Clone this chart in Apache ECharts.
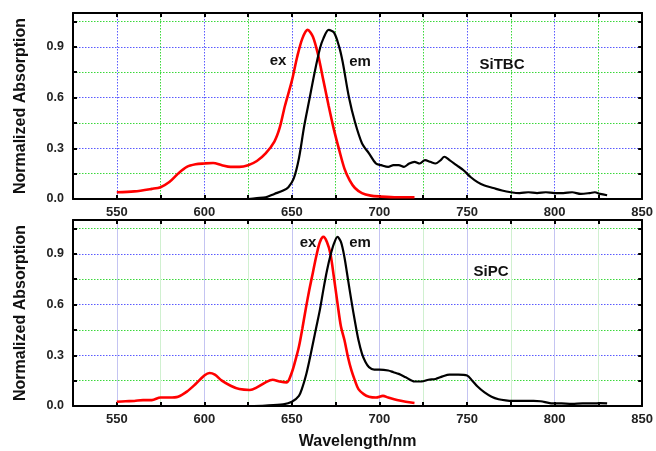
<!DOCTYPE html>
<html>
<head>
<meta charset="utf-8">
<script src="https://cdn.jsdelivr.net/npm/echarts@6/dist/echarts.min.js"></script>
<style>html,body{margin:0;padding:0;background:#fff}#c{width:656px;height:451px}</style>
</head>
<body>
<div id="c"></div>
<script>
// ---- Data ----
const sitbcExWl = [550,560,570,575,580,585,590,595,600,605,610,615,620,625,630,635,640,643,646,650,653,656,659,662,665,668,671,674,677,680,683,686,690,695,700,710,720];
const sitbcExVal = [0.04,0.045,0.06,0.07,0.1,0.15,0.19,0.205,0.21,0.213,0.2,0.19,0.19,0.2,0.225,0.27,0.34,0.42,0.55,0.7,0.84,0.95,1.0,0.96,0.85,0.7,0.55,0.41,0.29,0.18,0.11,0.065,0.035,0.02,0.015,0.01,0.01];

const sitbcEmWl = [625,630,635,640,645,648,651,654,657,660,663,666,668,671,674,677,679,682.6,686,690,694,698,701,705,708,711,714,717,720,723,726,729,732,735,737,740,744,748,752,756,760,765,770,775,780,785,790,795,800,805,810,815,820,823,826,830];
const sitbcEmVal = [0.0,0.005,0.01,0.03,0.05,0.07,0.12,0.24,0.43,0.59,0.75,0.89,0.95,1.0,0.985,0.9,0.81,0.6,0.455,0.33,0.27,0.21,0.2,0.19,0.2,0.2,0.19,0.21,0.22,0.21,0.23,0.22,0.21,0.23,0.25,0.23,0.2,0.17,0.13,0.1,0.08,0.065,0.05,0.04,0.035,0.04,0.035,0.04,0.035,0.035,0.04,0.03,0.035,0.04,0.03,0.022];

const sipcExWl = [550,555,560,565,570,575,580,585,590,595,600,603,606,610,615,620,626,630,635,639,643,647,650,652,654,656,658,660,662,664,666,668,670,672,674,676,678,680,682,684,686,688,691,694,698,702,705,710,715,720];
const sipcExVal = [0.025,0.028,0.03,0.035,0.035,0.05,0.05,0.055,0.085,0.13,0.18,0.195,0.185,0.15,0.12,0.1,0.095,0.11,0.14,0.155,0.145,0.14,0.2,0.27,0.35,0.46,0.58,0.69,0.79,0.89,0.97,1.0,0.97,0.9,0.76,0.61,0.47,0.39,0.29,0.21,0.15,0.1,0.07,0.055,0.05,0.06,0.05,0.035,0.025,0.018];

const sipcEmWl = [625,635,645,650,654,656,658,660,662,664,666,668,670,672,674,676,678,680,682,684,686,688,690,692,694,697,700,705,708,711,715,720,724,728,732,736,740,745,750,753,756,760,764,768,772,776,782,788,792,798,804,810,816,822,826,830];
const sipcEmVal = [0,0.003,0.01,0.025,0.06,0.11,0.18,0.27,0.37,0.47,0.57,0.69,0.8,0.89,0.96,1.0,0.97,0.88,0.75,0.62,0.5,0.39,0.31,0.26,0.23,0.215,0.215,0.21,0.2,0.19,0.17,0.145,0.145,0.155,0.16,0.175,0.185,0.185,0.18,0.15,0.115,0.08,0.055,0.04,0.033,0.03,0.03,0.03,0.028,0.016,0.015,0.013,0.016,0.015,0.017,0.015];

const xTickLabels = [550,600,650,700,750,800,850];
const yTickLabels = ['0.0','0.3','0.6','0.9'];
const yAxisTitle = 'Normalized Absorption';
const xAxisTitle = 'Wavelength/nm';
const annotations = [
  {text:'ex', x:278, y:61}, {text:'em', x:360, y:62}, {text:'SiTBC', x:502, y:65},
  {text:'ex', x:308, y:243}, {text:'em', x:360, y:243}, {text:'SiPC', x:491, y:272}
];

// ---- Chart ----
const chart = echarts.init(document.getElementById('c'), null, {renderer:'canvas'});
const FONT = 'Liberation Sans, Arial, sans-serif';
const pair = (a,b) => a.map((v,i)=>[v,b[i]]);
const BLUE = '#5a5aff', GREEN = '#3ad83a';
const DOT = [1.5, 1.5];

function xAxes(gi, showLabels, showName, vColors, vType) {
  const common = {
    type:'value', gridIndex:gi, min:525, max:850, interval:25,
    axisLine:{show:true, onZero:false, lineStyle:{color:'#000', width:2}},
    axisTick:{show:true, inside:true, length:4, lineStyle:{color:'#000', width:2}},
  };
  return [
    Object.assign({}, common, {
      position:'bottom',
      axisLabel:{show:showLabels, margin:7, color:'#222', fontFamily:FONT, fontWeight:'bold', fontSize:13,
        formatter: v => xTickLabels.includes(v) ? String(v) : ''},
      splitLine:{show:true, lineStyle:{color:vColors, type:vType, width:1}},
      name: showName ? xAxisTitle : '', nameLocation:'middle', nameGap:28,
      nameTextStyle:{fontFamily:FONT, fontWeight:'bold', fontSize:16, color:'#111'}
    }),
    Object.assign({}, common, {position:'top', axisLabel:{show:false}, splitLine:{show:false}})
  ];
}
function yAxes(gi) {
  const common = {
    type:'value', gridIndex:gi, min:0, max:1.1, interval:0.15,
    axisLine:{show:true, lineStyle:{color:'#000', width:2}},
    axisTick:{show:true, inside:true, length:4, lineStyle:{color:'#000', width:2}},
  };
  return [
    Object.assign({}, common, {
      position:'left',
      axisLabel:{show:true, margin:9, color:'#222', fontFamily:FONT, fontWeight:'bold', fontSize:12.5,
        formatter: v => { const s = v.toFixed(1); const k = Math.round(v/0.15); return (k%2===0 && yTickLabels.includes(s)) ? s : ''; }},
      splitLine:{show:true, lineStyle:{color:[BLUE, GREEN], type:DOT, width:1}},
      name: yAxisTitle, nameLocation:'middle', nameGap:44, nameRotate:90,
      nameTextStyle:{fontFamily:FONT, fontWeight:'bold', fontSize:16, color:'#111'}
    }),
    Object.assign({}, common, {position:'right', axisLabel:{show:false}, splitLine:{show:false}})
  ];
}

const lineSeries = (name, data, color, width, xi, yi) => ({
  name, type:'line', data, xAxisIndex:xi, yAxisIndex:yi, showSymbol:false, symbol:'none',
  smooth:0.3, lineStyle:{color, width}, z:5, silent:true
});

chart.setOption({
  animation:false,
  backgroundColor:'#fff',
  grid:[
    {left:73, top:13, width:570, height:186, show:false},
    {left:73, top:220, width:570, height:187, show:false}
  ],
  xAxis:[
    ...xAxes(0, true, false, [GREEN, BLUE], DOT),
    ...xAxes(1, true, true, ['#d0f0d0', '#c4c4f2'], 'solid')
  ],
  yAxis:[...yAxes(0), ...yAxes(1)],
  series:[
    lineSeries('SiTBC ex', pair(sitbcExWl, sitbcExVal), '#ff0000', 2.6, 0, 0),
    lineSeries('SiTBC em', pair(sitbcEmWl, sitbcEmVal), '#000000', 2.2, 0, 0),
    lineSeries('SiPC ex', pair(sipcExWl, sipcExVal), '#ff0000', 2.6, 2, 2),
    lineSeries('SiPC em', pair(sipcEmWl, sipcEmVal), '#000000', 2.2, 2, 2)
  ],
  graphic: annotations.map(a => ({
    type:'text', x:a.x, y:a.y, z:20,
    style:{text:a.text, fontFamily:FONT, fontWeight:'bold', fontSize:15, fill:'#111', align:'center', verticalAlign:'middle'}
  }))
});
</script>
</body>
</html>
